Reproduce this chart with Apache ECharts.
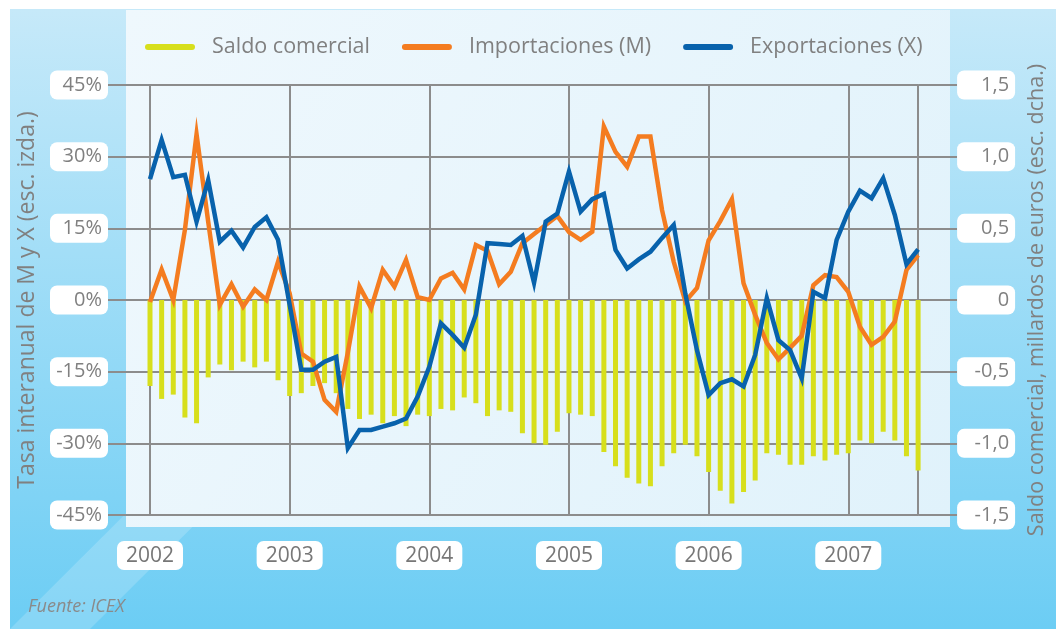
<!DOCTYPE html>
<html>
<head>
<meta charset="utf-8">
<script src="https://cdn.jsdelivr.net/npm/echarts/dist/echarts.min.js"></script>
<style>
html,body{margin:0;padding:0;background:#fff}
#chart{width:1056px;height:629px}
</style>
</head>
<body>
<div id="chart"></div>
<script>
var FONT = 'Open Sans';
var GREY = '#808080';
var LINE = '#8c8c8c';

var years = ['2002', '2003', '2004', '2005', '2006', '2007'];
// meses de ene-2002 a jul-2007
var months = [];
for (var y = 0; y < years.length; y++) {
	for (var m = 1; m <= 12; m++) {
		months.push(years[y] + '-' + (m < 10 ? '0' + m : m));
	}
}
months = months.slice(0, 67);

// saldo comercial, millardos de euros (esc. dcha.)
var saldo = [
	-0.60, -0.69, -0.66, -0.82, -0.86, -0.54, -0.45, -0.49, -0.43, -0.47, -0.43, -0.56,
	-0.67, -0.65, -0.60, -0.58, -0.65, -0.76, -0.83, -0.80, -0.86, -0.81, -0.88, -0.80,
	-0.81, -0.76, -0.77, -0.68, -0.72, -0.81, -0.77, -0.78, -0.93, -1.00, -1.01, -0.92,
	-0.79, -0.80, -0.81, -1.06, -1.16, -1.24, -1.28, -1.30, -1.16, -1.07, -1.01, -1.09,
	-1.20, -1.33, -1.42, -1.34, -1.26, -1.07, -1.08, -1.15, -1.15, -1.09, -1.12, -1.08,
	-1.07, -0.98, -1.00, -0.92, -0.98, -1.09, -1.19
];
// tasa interanual importaciones (%)
var importaciones = [
	-0.4, 6.4, 0.0, 14.7, 34.7, 16.4, -1.0, 3.3, -1.4, 2.2, 0.0, 8.0,
	1.4, -11.2, -12.9, -20.9, -23.4, -11.0, 2.8, -1.7, 6.3, 2.8, 8.4, 0.6,
	0.0, 4.5, 5.7, 2.2, 11.5, 10.3, 3.3, 5.9, 11.9, 13.8, 15.7, 17.6,
	14.2, 12.6, 14.3, 36.3, 31.0, 27.9, 34.2, 34.2, 18.8, 8.0, -0.3, 2.5,
	12.5, 16.5, 21.1, 3.5, -3.1, -9.0, -12.4, -10.0, -7.5, 3.1, 5.2, 4.8,
	1.7, -5.6, -9.4, -7.7, -4.5, 6.3, 9.4
];
// tasa interanual exportaciones (%)
var exportaciones = [
	25.3, 33.5, 25.7, 26.2, 16.4, 25.1, 12.2, 14.5, 11.0, 15.3, 17.3, 12.6,
	-1.0, -14.6, -14.6, -12.9, -11.9, -31.0, -27.2, -27.2, -26.5, -25.8, -24.8, -20.2,
	-14.0, -4.9, -7.3, -10.0, -3.1, 11.9, 11.7, 11.5, 13.4, 3.6, 16.4, 18.1,
	26.9, 18.5, 21.1, 22.2, 10.5, 6.6, 8.5, 10.1, 13.0, 15.7, 1.3, -10.5,
	-19.9, -17.4, -16.6, -18.1, -11.5, 0.4, -8.4, -10.5, -16.4, 1.7, 0.4, 12.6,
	18.5, 22.9, 21.3, 25.5, 17.8, 7.5, 10.6
];

function yearTick(i){
	return i % 12 === 0 || i === months.length - 1;
}
var boxStyle = {
	backgroundColor: '#fff',
	borderRadius: 7,
	width: 46,
	height: 21,
	padding: [4, 6, 4, 6],
	align: 'right',
	fontSize: 20,
	color: GREY,
	fontFamily: FONT
};
var cap = 'path://M3,0 L47,0 A3,3 0 0 1 47,6 L3,6 A3,3 0 0 1 3,0 Z';

var myChart = echarts.init(document.getElementById('chart'));
var option = {
	animation: false,
	textStyle: {fontFamily: FONT},
	graphic: [
		{
			type: 'rect', z: -10, silent: true,
			shape: {x: 10, y: 9, width: 1046, height: 620},
			style: {fill: new echarts.graphic.LinearGradient(0, 0, 0, 1, [
				{offset: 0, color: '#c6e9f9'},
				{offset: 1, color: '#6ccdf4'}
			])}
		},
		{
			type: 'polygon', z: -9, silent: true,
			shape: {points: [[10, 629], [90, 629], [420, 300], [340, 300]]},
			style: {fill: 'rgba(255,255,255,0.18)'}
		},
		{
			type: 'rect', z: -8, silent: true,
			shape: {x: 126, y: 10, width: 824, height: 517},
			style: {fill: new echarts.graphic.LinearGradient(0, 0, 1, 1, [
				{offset: 0, color: '#eff8fd'},
				{offset: 1, color: '#e0f2fb'}
			])}
		},
		{
			type: 'text', left: 28, top: 598, silent: true,
			style: {text: 'Fuente: ICEX', fill: '#8a8a8a', fontSize: 18, fontStyle: 'italic', fontFamily: FONT}
		}
	],
	legend: {
		left: 140,
		top: 31,
		itemWidth: 50,
		itemHeight: 7,
		itemGap: 32,
		textStyle: {fontSize: 21.5, color: GREY, fontFamily: FONT, padding: [0, 0, 0, 12]},
		data: [
			{name: 'Saldo comercial', icon: cap},
			{name: 'Importaciones (M)', icon: cap},
			{name: 'Exportaciones (X)', icon: cap}
		]
	},
	grid: {left: 150, right: 127, top: 85, bottom: 114},
	xAxis: {
		type: 'category',
		data: months,
		boundaryGap: false,
		axisLine: {show: false},
		axisTick: {show: true, length: 26, interval: yearTick, lineStyle: {color: LINE, width: 2}},
		splitLine: {show: true, interval: yearTick, lineStyle: {color: LINE, width: 2}},
		axisLabel: {
			interval: function(i){ return i % 12 === 0; },
			margin: 26,
			formatter: function(v){ return '{b|' + v.slice(0, 4) + '}'; },
			rich: {b: {backgroundColor: '#fff', borderRadius: 7, padding: [5, 9, 3, 9], fontSize: 21, color: '#777', fontFamily: FONT}}
		}
	},
	yAxis: [
		{
			type: 'value', min: -45, max: 45, interval: 15, position: 'left',
			name: 'Tasa interanual de M y X (esc. izda.)',
			nameLocation: 'middle', nameGap: 110, nameRotate: 90,
			nameTextStyle: {color: GREY, fontSize: 23, fontFamily: FONT},
			axisLine: {show: false},
			axisTick: {show: true, length: 42, lineStyle: {color: LINE, width: 2}},
			splitLine: {show: true, lineStyle: {color: LINE, width: 2}},
			axisLabel: {
				margin: 42,
				formatter: function(v){ return '{b|' + v + '%}'; },
				rich: {b: boxStyle}
			}
		},
		{
			type: 'value', min: -1.5, max: 1.5, interval: 0.5, position: 'right',
			name: 'Saldo comercial, millardos de euros (esc. dcha.)',
			nameLocation: 'middle', nameGap: 104, nameRotate: 90,
			nameTextStyle: {color: GREY, fontSize: 21.5, fontFamily: FONT},
			axisLine: {show: false},
			axisTick: {show: true, length: 39, lineStyle: {color: LINE, width: 2}},
			splitLine: {show: false},
			axisLabel: {
				margin: 39,
				formatter: function(v){ return '{b|' + (v === 0 ? '0' : v.toFixed(1).replace('.', ',')) + '}'; },
				rich: {b: boxStyle}
			}
		}
	],
	series: [
		{
			name: 'Saldo comercial', type: 'bar', yAxisIndex: 1, data: saldo,
			barWidth: 5, clip: false, itemStyle: {color: '#d7df1c'}
		},
		{
			name: 'Importaciones (M)', type: 'line', data: importaciones,
			symbol: 'none', lineStyle: {width: 4.5, color: '#f47c20', join: 'miter'}, itemStyle: {color: '#f47c20'}
		},
		{
			name: 'Exportaciones (X)', type: 'line', data: exportaciones,
			symbol: 'none', lineStyle: {width: 4.5, color: '#0862ac', join: 'miter'}, itemStyle: {color: '#0862ac'}
		}
	]
};
myChart.setOption(option);
</script>
</body>
</html>
